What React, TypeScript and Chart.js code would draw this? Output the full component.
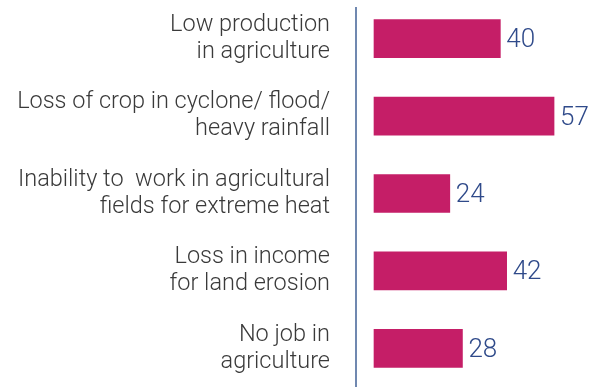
import React, { useEffect, useRef } from "react";
import { Chart, registerables } from "chart.js";

Chart.register(...registerables);

const categories: string[][] = [
  ["Low production", "in agriculture"],
  ["Loss of crop in cyclone/ flood/", "heavy rainfall"],
  ["Inability to  work in agricultural", "fields for extreme heat"],
  ["Loss in income", "for land erosion"],
  ["No job in", "agriculture"],
];
const values: number[] = [40, 57, 24, 42, 28];

const BAR_COLOR = "#C51E67";
const VALUE_COLOR = "#2F4A8A";
const LABEL_COLOR = "#3A3A3A";
const AXIS_COLOR = "#7088B0";
const FONT = "Roboto, 'Liberation Sans', Arial, sans-serif";

export default function App() {
  const ref = useRef<HTMLCanvasElement>(null);
  useEffect(() => {
    document.body.style.margin = "0";
    const canvas = ref.current!;
    const valuePlugin = {
      id: "vals",
      afterDatasetsDraw(chart: any) {
        const ctx = chart.ctx;
        const meta = chart.getDatasetMeta(0);
        ctx.save();
        ctx.fillStyle = VALUE_COLOR;
        ctx.font = `300 26px ${FONT}`;
        ctx.textAlign = "left";
        ctx.textBaseline = "middle";
        meta.data.forEach((bar: any, i: number) => {
          ctx.fillText(String(values[i]), bar.x + 6, bar.y + 2);
        });
        const x = chart.chartArea.left;
        ctx.strokeStyle = AXIS_COLOR;
        ctx.lineWidth = 2;
        ctx.beginPath();
        ctx.moveTo(x, 7);
        ctx.lineTo(x, chart.height);
        ctx.stroke();
        ctx.restore();
      },
    };
    const chart = new Chart(canvas, {
      type: "bar",
      data: {
        labels: categories,
        datasets: [
          {
            data: values,
            backgroundColor: BAR_COLOR,
            barThickness: 38,
          },
        ],
      },
      options: {
        indexAxis: "y",
        animation: false,
        responsive: false,
        maintainAspectRatio: false,
        layout: { padding: 0 },
        plugins: { legend: { display: false }, tooltip: { enabled: false } },
        scales: {
          x: { display: false, min: -5.7, max: 72.5 },
          y: {
            border: { display: false },
            grid: { display: false, drawTicks: false },
            ticks: {
              padding: 26,
              color: LABEL_COLOR,
              font: { family: FONT, size: 23.5, weight: "300" as any, lineHeight: 1.15 },
            },
            afterFit(scale: any) {
              scale.width = 356;
              scale.paddingTop = 0;
              scale.paddingBottom = 0;
            },
          },
        },
      },
      plugins: [valuePlugin],
    });
    return () => chart.destroy();
  }, []);
  return (
    <div style={{ width: 603, height: 387 }}>
      <canvas ref={ref} width={603} height={387} style={{ display: "block" }} />
    </div>
  );
}
